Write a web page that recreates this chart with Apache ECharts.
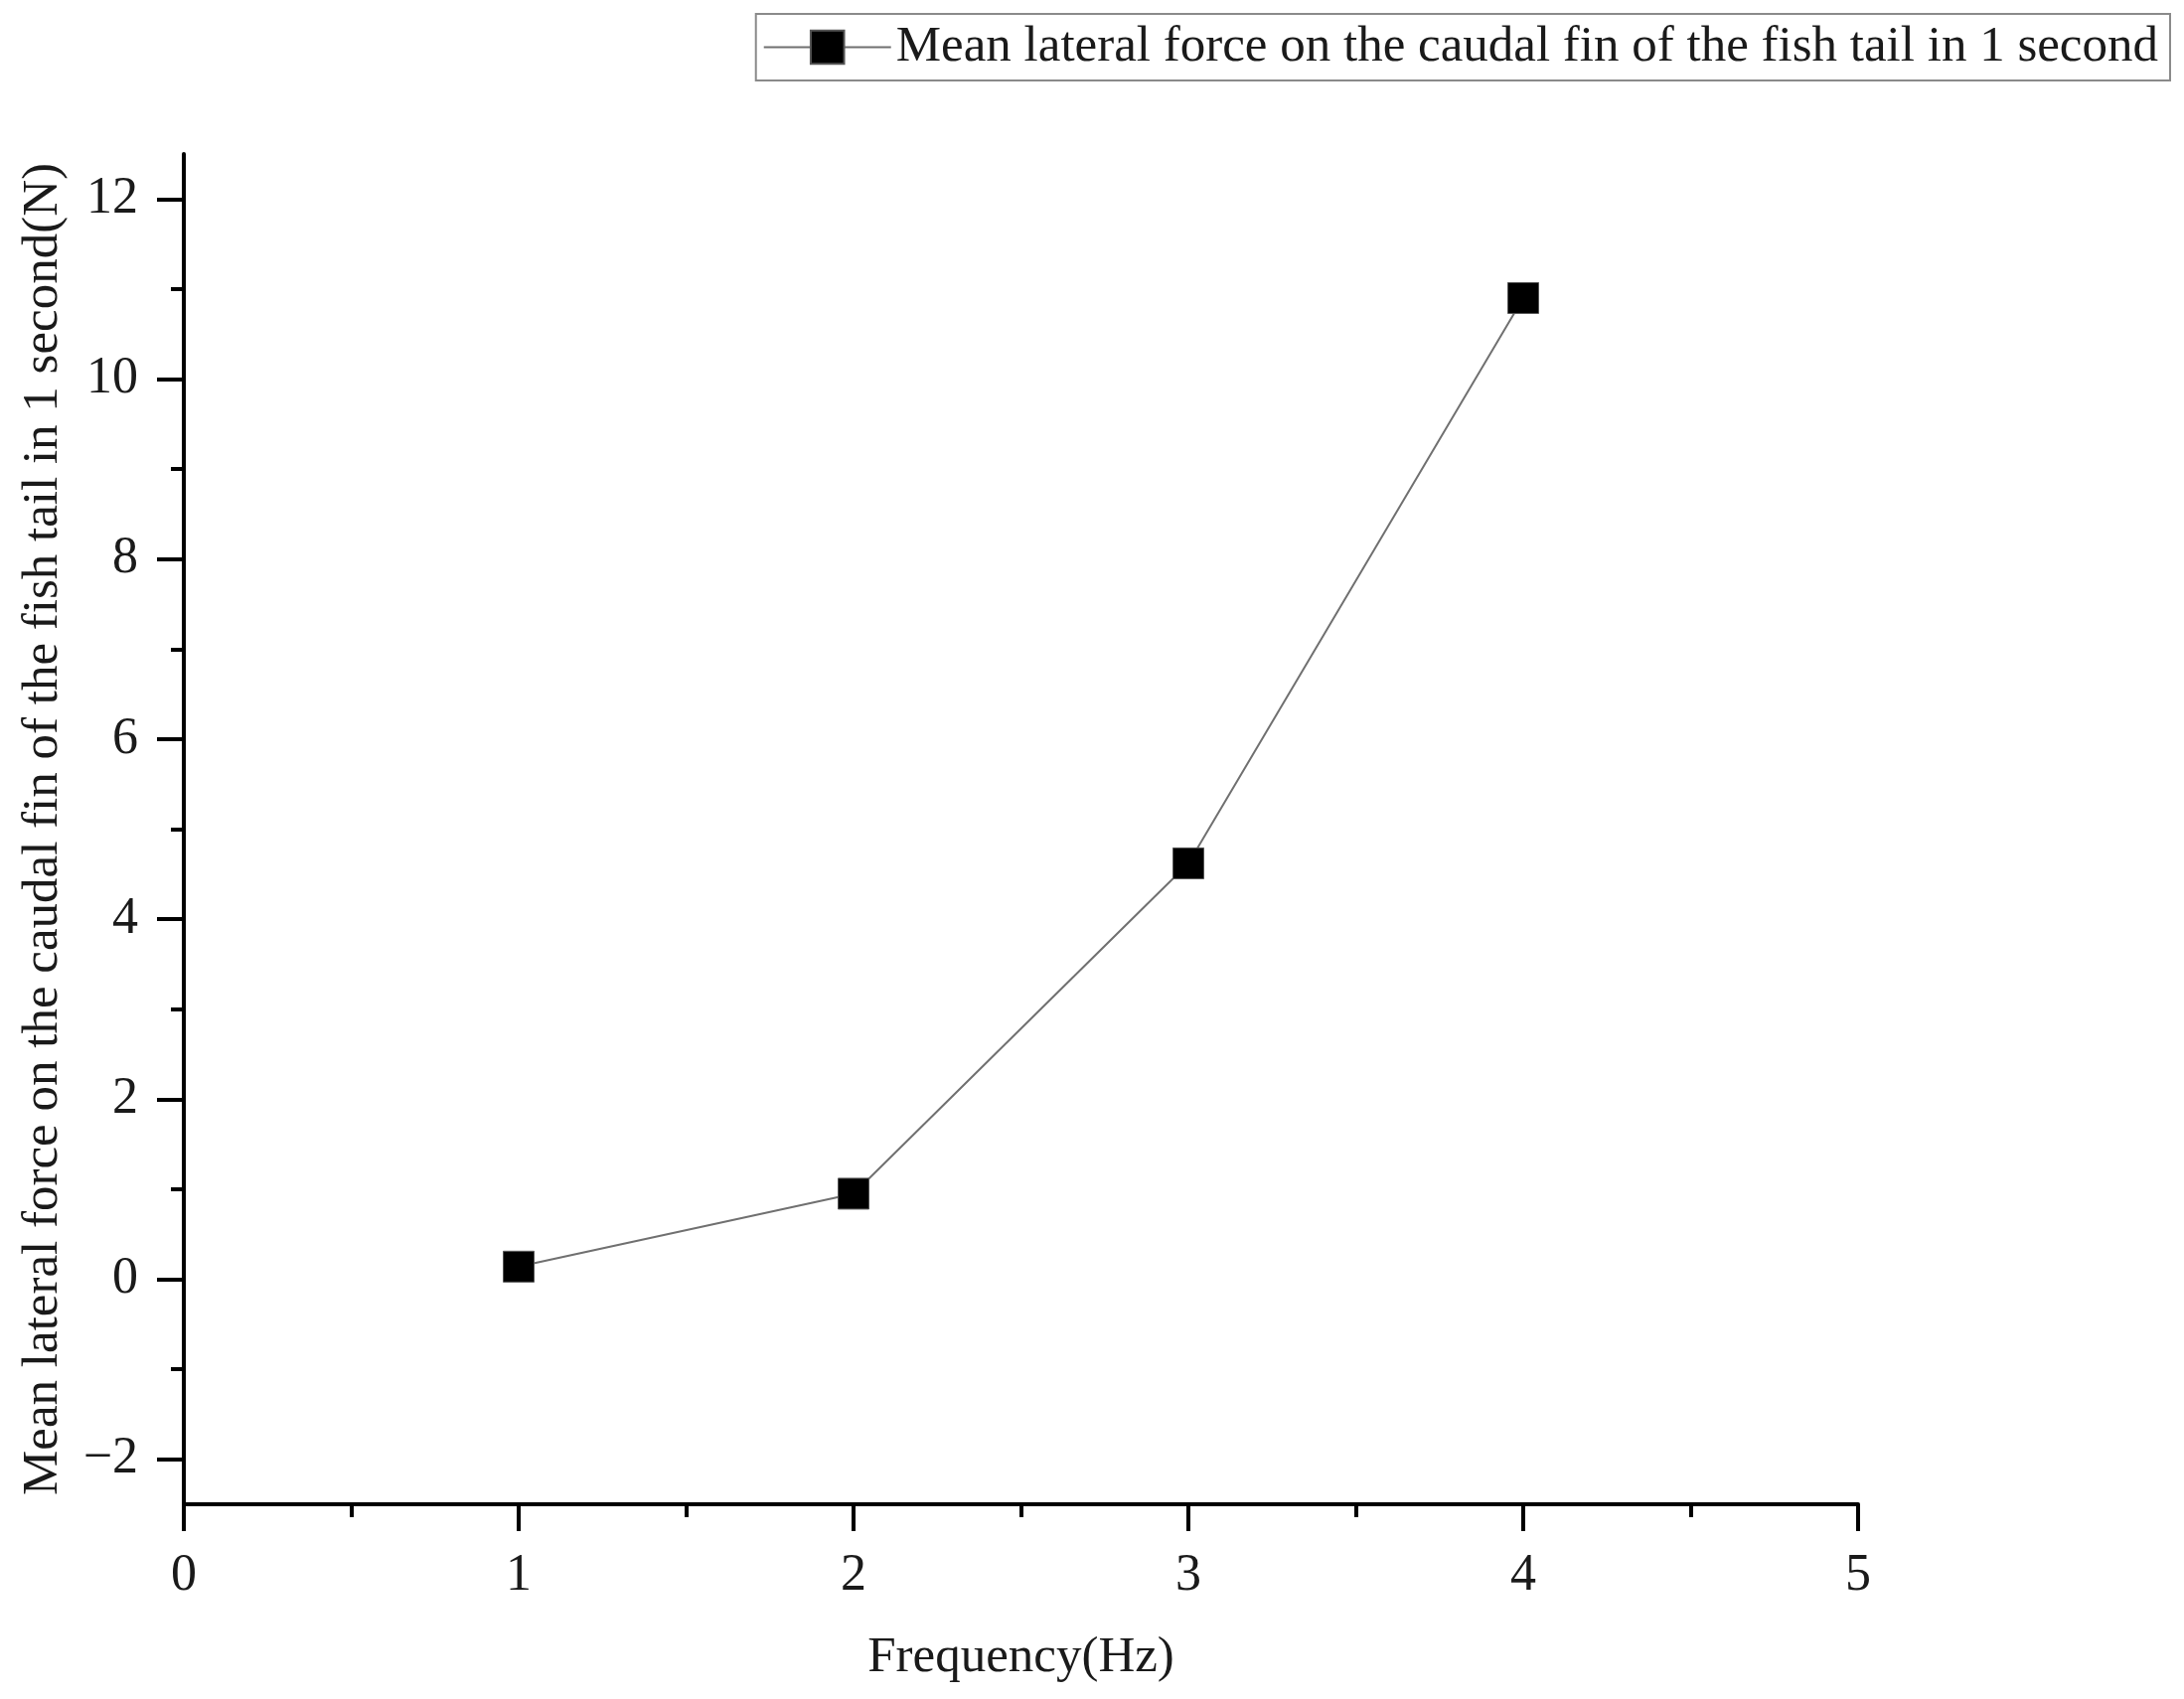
<!DOCTYPE html>
<html>
<head>
<meta charset="utf-8">
<script src="https://cdn.jsdelivr.net/npm/echarts@6/dist/echarts.min.js"></script>
<style>
html,body{margin:0;padding:0;background:#fff;}
#chart{width:2198px;height:1710px;}
</style>
</head>
<body>
<div id="chart"></div>
<script>
const seriesName = 'Mean lateral force on the caudal fin of the fish tail in 1 second';
const frequencies = [1, 2, 3, 4];
const forceValues = [0.14, 0.95, 4.62, 10.9];
const yMajorTicks = [-2, 0, 2, 4, 6, 8, 10, 12];
const yMinorTicks = [-1, 1, 3, 5, 7, 9, 11];
const xAxisName = 'Frequency(Hz)';
const yAxisName = 'Mean lateral force on the caudal fin of the fish tail in 1 second(N)';

const FONT = '"Liberation Serif", "Times New Roman", serif';
const chart = echarts.init(document.getElementById('chart'), null, {renderer: 'canvas'});
const data = frequencies.map((f, i) => [f, forceValues[i]]);

chart.setOption({
  backgroundColor: '#fff',
  animation: false,
  textStyle: {fontFamily: FONT, color: '#1a1a1a'},
  legend: {
    right: 14, top: 14,
    padding: [8, 12, 8, 7],
    borderColor: '#8a8a8a', borderWidth: 2,
    itemWidth: 128, itemHeight: 42, itemGap: 10,
    textStyle: {fontFamily: FONT, fontSize: 51, color: '#1a1a1a'},
    data: [seriesName]
  },
  grid: {left: 185, right: 328, top: 155, bottom: 196, containLabel: false},
  xAxis: {
    type: 'value', min: 0, max: 5, interval: 1,
    name: xAxisName, nameLocation: 'middle', nameGap: 129,
    nameTextStyle: {fontFamily: FONT, fontSize: 51, color: '#1a1a1a'},
    axisLine: {onZero: false, lineStyle: {color: '#000', width: 4}},
    axisTick: {show: true, length: 27, lineStyle: {color: '#000', width: 4}},
    minorTick: {show: true, splitNumber: 2, length: 13, lineStyle: {color: '#000', width: 4}},
    axisLabel: {fontFamily: FONT, fontSize: 52, color: '#1a1a1a', margin: 46},
    splitLine: {show: false}
  },
  yAxis: [{
    type: 'value', min: -2.5, max: 12.5, position: 'left',
    name: yAxisName, nameLocation: 'middle', nameGap: 116,
    nameTextStyle: {fontFamily: FONT, fontSize: 51, color: '#1a1a1a'},
    axisLine: {onZero: false, lineStyle: {color: '#000', width: 4}},
    axisTick: {show: true, length: 27, customValues: yMajorTicks, lineStyle: {color: '#000', width: 4}},
    axisLabel: {fontFamily: FONT, fontSize: 52, color: '#1a1a1a', margin: 46, customValues: yMajorTicks,
      formatter: v => (v < 0 ? '\u2212' + Math.abs(v) : String(v))},
    splitLine: {show: false}
  }, {
    type: 'value', min: -2.5, max: 12.5, position: 'left',
    axisLine: {show: false},
    axisTick: {show: true, length: 13, customValues: yMinorTicks, lineStyle: {color: '#000', width: 4}},
    axisLabel: {show: false},
    splitLine: {show: false}
  }],
  series: [{
    name: seriesName,
    type: 'line',
    data: data,
    symbol: 'rect',
    symbolSize: 31,
    itemStyle: {color: '#000', borderColor: '#555', borderWidth: 1},
    lineStyle: {color: '#707070', width: 2},
    z: 3
  }]
});
</script>
</body>
</html>
